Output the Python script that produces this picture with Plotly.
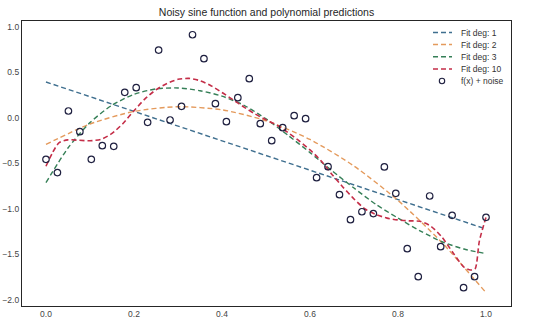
import plotly.graph_objects as go

# Noisy samples of the sine function
x_points = [0.000, 0.026, 0.051, 0.077, 0.103, 0.128, 0.154, 0.179, 0.205, 0.231,
            0.256, 0.282, 0.308, 0.333, 0.359, 0.385, 0.410, 0.436, 0.462, 0.487,
            0.513, 0.538, 0.564, 0.590, 0.615, 0.641, 0.667, 0.692, 0.718, 0.744,
            0.769, 0.795, 0.821, 0.846, 0.872, 0.897, 0.923, 0.949, 0.974, 1.000]
y_points = [-0.454, -0.600, 0.077, -0.150, -0.454, -0.304, -0.311, 0.282, 0.333, -0.047,
            0.747, -0.022, 0.128, 0.915, 0.652, 0.157, -0.040, 0.223, 0.432, -0.062,
            -0.249, -0.106, 0.026, -0.007, -0.656, -0.535, -0.843, -1.117, -1.030, -1.050,
            -0.538, -0.828, -1.436, -1.744, -0.857, -1.414, -1.069, -1.865, -1.744, -1.091]

# Polynomial predictions sampled along x
x_deg1 = [0.0, 1.0]
y_deg1 = [0.396, -1.220]

x_deg2 = [0.0, 0.1, 0.2, 0.3, 0.4, 0.5, 0.6, 0.7, 0.8, 0.9, 1.0]
y_deg2 = [-0.290, -0.066, 0.072, 0.124, 0.090, -0.030, -0.236, -0.528, -0.906, -1.370, -1.920]

x_deg3 = [0.00, 0.05, 0.10, 0.15, 0.20, 0.25, 0.30, 0.35, 0.40, 0.45, 0.50,
          0.55, 0.60, 0.65, 0.70, 0.75, 0.80, 0.85, 0.90, 0.95, 1.00]
y_deg3 = [-0.710, -0.330, -0.050, 0.140, 0.260, 0.320, 0.330, 0.300, 0.240, 0.140, -0.010,
          -0.190, -0.380, -0.580, -0.770, -0.950, -1.100, -1.240, -1.360, -1.440, -1.490]

x_deg10 = [0.000, 0.015, 0.030, 0.050, 0.075, 0.100, 0.125, 0.150, 0.175, 0.200,
           0.225, 0.250, 0.275, 0.300, 0.325, 0.350, 0.375, 0.400, 0.425, 0.450,
           0.475, 0.500, 0.525, 0.550, 0.575, 0.600, 0.625, 0.650, 0.675, 0.700,
           0.725, 0.750, 0.775, 0.800, 0.825, 0.850, 0.875, 0.900, 0.925, 0.950,
           0.965, 0.975, 0.985, 1.000]
y_deg10 = [-0.530, -0.380, -0.270, -0.240, -0.245, -0.250, -0.235, -0.170, -0.060, 0.080,
           0.210, 0.310, 0.380, 0.425, 0.435, 0.410, 0.355, 0.280, 0.200, 0.120,
           0.045, -0.020, -0.080, -0.160, -0.250, -0.350, -0.470, -0.620, -0.760, -0.890,
           -1.000, -1.060, -1.100, -1.120, -1.130, -1.135, -1.190, -1.310, -1.480, -1.640,
           -1.670, -1.660, -1.350, -1.090]

fit_names = ["Fit deg: 1", "Fit deg: 2", "Fit deg: 3", "Fit deg: 10"]
fit_colors = ["#3f6f8f", "#e49a5c", "#357f57", "#c42e48"]
point_name = "f(x) + noise"
point_color = "#1f2040"
title_text = "Noisy sine function and polynomial predictions"

FONT = "Liberation Sans, Arial, Helvetica, sans-serif"
W, H = 540, 326
L, R, T, B = 22, 29, 21, 20
DASH = "5px,3px"

fig = go.Figure()

fits = [(x_deg1, y_deg1), (x_deg2, y_deg2), (x_deg3, y_deg3), (x_deg10, y_deg10)]
for (xs, ys), name, color in zip(fits, fit_names, fit_colors):
    fig.add_trace(go.Scatter(
        x=xs, y=ys, mode="lines", name=name, showlegend=False,
        line=dict(color=color, width=1.6 if name.endswith("10") else 1.4,
                  dash=DASH, shape="spline", smoothing=0.7),
    ))

fig.add_trace(go.Scatter(
    x=x_points, y=y_points, mode="markers", name=point_name, showlegend=False,
    marker=dict(symbol="circle-open", size=6.5, color=point_color,
                line=dict(width=1.2, color=point_color)),
))

# Legend in the upper-right corner of the axes
pw, ph = W - L - R, H - T - B


def px(p):
    return (p - L) / pw


def py(p):
    return (H - B - p) / ph


shapes = []
annotations = []
row_y = [32.5, 44.5, 56.7, 69.0, 81.0]
for i, (name, color) in enumerate(zip(fit_names, fit_colors)):
    shapes.append(dict(type="line", xref="paper", yref="paper",
                       x0=px(433), x1=px(452), y0=py(row_y[i]), y1=py(row_y[i]),
                       line=dict(color=color, width=1.6 if i == 3 else 1.4, dash=DASH)))
    annotations.append(dict(xref="paper", yref="paper", x=px(459), y=py(row_y[i]),
                            text=name, showarrow=False, xanchor="left", yanchor="middle",
                            font=dict(family=FONT, size=8.5, color="#333333")))
shapes.append(dict(type="circle", xref="paper", yref="paper",
                   x0=px(439.3), x1=px(444.7), y0=py(row_y[4] + 2.7), y1=py(row_y[4] - 2.7),
                   line=dict(color=point_color, width=1.1)))
annotations.append(dict(xref="paper", yref="paper", x=px(459), y=py(row_y[4]),
                        text=point_name, showarrow=False, xanchor="left", yanchor="middle",
                        font=dict(family=FONT, size=8.5, color="#333333")))

axis_common = dict(showgrid=False, zeroline=False, showline=True, mirror=True,
                   linecolor="#262626", linewidth=1.2, ticks="",
                   tickfont=dict(family=FONT, size=8.5, color="#444444"),
                   automargin=False)

fig.update_layout(
    width=W, height=H,
    margin=dict(l=L, r=R, t=T, b=B),
    paper_bgcolor="white", plot_bgcolor="white",
    showlegend=False,
    title=dict(text=title_text, x=0.5, xref="paper", xanchor="center",
               y=1 - 12.5 / H, yref="container", yanchor="middle",
               font=dict(family=FONT, size=10.5, color="#262626")),
    xaxis=dict(range=[-0.0545, 1.0568], tickvals=[0.0, 0.2, 0.4, 0.6, 0.8, 1.0],
               tickformat=".1f", **axis_common),
    yaxis=dict(range=[-2.066, 1.066], tickvals=[-2.0, -1.5, -1.0, -0.5, 0.0, 0.5, 1.0],
               tickformat=".1f", **axis_common),
    shapes=shapes,
    annotations=annotations,
)

fig.write_html("out.html")
